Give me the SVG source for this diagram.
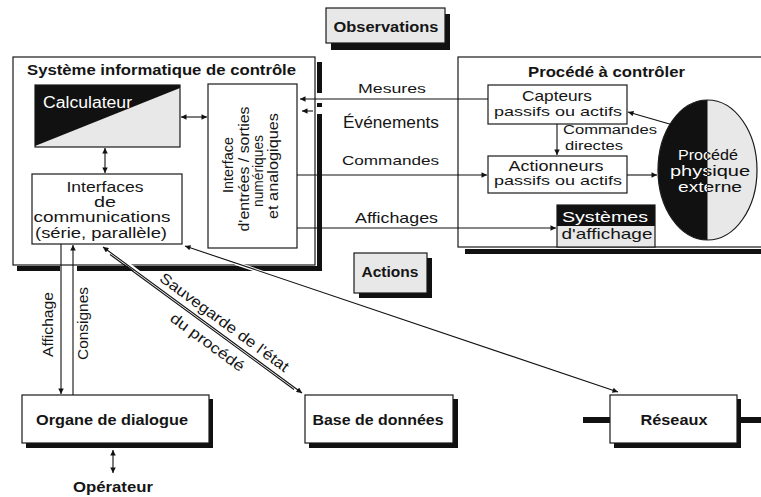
<svg xmlns="http://www.w3.org/2000/svg" width="761" height="497" viewBox="0 0 761 497">
  <style>
    text { font-family: "Liberation Sans", Arial, Helvetica, sans-serif; fill: #151515; }
    .b { font-weight: bold; }
    .w { fill: #ffffff; }
    .box { fill: #ffffff; stroke: #1a1a1a; stroke-width: 1.2; }
    .gbox { fill: #e8e8e8; stroke: #1a1a1a; stroke-width: 1.2; }
    .shadow { fill: #111111; }
    .ln { fill: none; stroke: #111111; stroke-width: 1.1; }
    .halo { fill: none; stroke: #ffffff; stroke-width: 3.5; }
  </style>
  <defs>
    <marker id="arr" viewBox="0 0 10 10" refX="10" refY="5" markerWidth="8" markerHeight="5.5" markerUnits="userSpaceOnUse" orient="auto-start-reverse">
      <path d="M0,0 L10,5 L0,10 z" fill="#111111"/>
    </marker>
    <clipPath id="ellLeft"><rect x="650" y="95" width="57.5" height="150"/></clipPath>
    <!-- white on the dark half, black on the light half -->
    <linearGradient id="splitText" gradientUnits="userSpaceOnUse" x1="650" y1="0" x2="770" y2="0">
      <stop offset="0.479" stop-color="#ffffff"/>
      <stop offset="0.479" stop-color="#111111"/>
    </linearGradient>
  </defs>

  <rect width="761" height="497" fill="#ffffff"/>

  <!-- Observations label -->
  <g id="observations">
    <rect class="shadow" x="331" y="14" width="119" height="36"/>
    <rect class="gbox" x="326" y="8" width="119" height="35"/>
    <text class="b" x="386" y="32" font-size="15" text-anchor="middle" textLength="105" lengthAdjust="spacingAndGlyphs">Observations</text>
  </g>

  <!-- Control computer system -->
  <g id="systeme">
    <rect class="shadow" x="317" y="62" width="5" height="31"/>
    <rect class="shadow" x="317" y="103" width="5" height="4"/>
    <rect class="shadow" x="317" y="114" width="5" height="157"/>
    <rect class="shadow" x="17" y="266" width="43" height="5"/>
    <rect class="shadow" x="77" y="266" width="245" height="5"/>
    <rect class="box" x="13" y="57" width="302" height="208"/>
    <text class="b" x="27" y="75" font-size="14" textLength="269" lengthAdjust="spacingAndGlyphs">Système informatique de contrôle</text>
  </g>

  <g id="calculateur">
    <rect x="35" y="85" width="145" height="62" fill="#e8e8e8"/>
    <polygon points="35,85 180,85 180,88 35,146" fill="#111111"/>
    <rect x="35" y="85" width="145" height="62" fill="none" stroke="#1a1a1a" stroke-width="1.2"/>
    <text class="w" x="43" y="108" font-size="16" textLength="89" lengthAdjust="spacingAndGlyphs">Calculateur</text>
  </g>

  <g id="interfaces-comm">
    <rect class="box" x="32" y="174" width="150" height="70"/>
    <text x="105" y="192" font-size="14" text-anchor="middle" textLength="77" lengthAdjust="spacingAndGlyphs">Interfaces</text>
    <text x="105" y="207" font-size="14" text-anchor="middle" textLength="22" lengthAdjust="spacingAndGlyphs">de</text>
    <text x="102" y="222" font-size="14.5" text-anchor="middle" textLength="137" lengthAdjust="spacingAndGlyphs">communications</text>
    <text x="101" y="238" font-size="14" text-anchor="middle" textLength="132" lengthAdjust="spacingAndGlyphs">(série, parallèle)</text>
  </g>

  <g id="interface-es">
    <rect class="box" x="208" y="84" width="89" height="164"/>
    <g font-size="15" text-anchor="middle">
      <text transform="translate(233,165) rotate(-90)" textLength="56" lengthAdjust="spacingAndGlyphs">Interface</text>
      <text transform="translate(249,169) rotate(-90)" textLength="125" lengthAdjust="spacingAndGlyphs">d'entrées / sorties</text>
      <text transform="translate(263,171) rotate(-90)" textLength="72" lengthAdjust="spacingAndGlyphs">numériques</text>
      <text transform="translate(278,166) rotate(-90)" textLength="106" lengthAdjust="spacingAndGlyphs">et analogiques</text>
    </g>
  </g>

  <!-- Process to be controlled -->
  <g id="procede">
    <rect class="shadow" x="465" y="249" width="300" height="5"/>
    <rect class="box" x="458" y="57" width="312" height="190"/>
    <text class="b" x="528" y="77" font-size="14" textLength="157" lengthAdjust="spacingAndGlyphs">Procédé à contrôler</text>
  </g>

  <g id="capteurs">
    <rect class="box" x="488" y="85" width="139" height="39"/>
    <text x="557" y="101" font-size="15" text-anchor="middle" textLength="70" lengthAdjust="spacingAndGlyphs">Capteurs</text>
    <text x="558" y="116" font-size="13.5" text-anchor="middle" textLength="128" lengthAdjust="spacingAndGlyphs">passifs ou actifs</text>
  </g>

  <g id="actionneurs">
    <rect class="box" x="488" y="156" width="139" height="37"/>
    <text x="556" y="171" font-size="15" text-anchor="middle" textLength="95" lengthAdjust="spacingAndGlyphs">Actionneurs</text>
    <text x="558" y="185" font-size="13.5" text-anchor="middle" textLength="128" lengthAdjust="spacingAndGlyphs">passifs ou actifs</text>
  </g>

  <g id="affichage-sys">
    <rect x="557" y="205" width="98" height="21" fill="#111111"/>
    <rect x="557" y="226" width="98" height="21" fill="#e8e8e8"/>
    <rect x="557" y="205" width="98" height="42" fill="none" stroke="#1a1a1a" stroke-width="1.2"/>
    <text class="w" x="605" y="222" font-size="15.5" text-anchor="middle" textLength="86" lengthAdjust="spacingAndGlyphs">Systèmes</text>
    <text x="607" y="239" font-size="15" text-anchor="middle" textLength="91" lengthAdjust="spacingAndGlyphs">d'affichage</text>
  </g>

  <g id="procede-physique">
    <ellipse cx="707.5" cy="170" rx="49.5" ry="70" fill="#e8e8e8"/>
    <ellipse cx="707.5" cy="170" rx="49.5" ry="70" fill="#111111" clip-path="url(#ellLeft)"/>
    <ellipse cx="707.5" cy="170" rx="49.5" ry="70" fill="none" stroke="#1a1a1a" stroke-width="1.2"/>
    <g font-size="14" text-anchor="middle">
      <text x="708" y="160" style="fill:url(#splitText)" textLength="60" lengthAdjust="spacingAndGlyphs">Procédé</text>
      <text x="710" y="176" style="fill:url(#splitText)" textLength="80" lengthAdjust="spacingAndGlyphs">physique</text>
      <text x="710" y="192" style="fill:url(#splitText)" textLength="64" lengthAdjust="spacingAndGlyphs">externe</text>
    </g>
  </g>

  <!-- Actions label -->
  <g id="actions">
    <rect class="shadow" x="359" y="258" width="73" height="40"/>
    <rect class="gbox" x="354" y="253" width="73" height="40"/>
    <text class="b" x="390" y="277" font-size="15" text-anchor="middle" textLength="57" lengthAdjust="spacingAndGlyphs">Actions</text>
  </g>

  <!-- Bottom nodes -->
  <g id="organe">
    <rect class="shadow" x="26" y="399" width="187" height="49"/>
    <rect class="box" x="22" y="395" width="187" height="48"/>
    <text class="b" x="112" y="425" font-size="15" text-anchor="middle" textLength="152" lengthAdjust="spacingAndGlyphs">Organe de dialogue</text>
  </g>

  <g id="operateur">
    <text class="b" x="113" y="492" font-size="15" text-anchor="middle" textLength="80" lengthAdjust="spacingAndGlyphs">Opérateur</text>
  </g>

  <g id="base">
    <rect class="shadow" x="309" y="399" width="149" height="49"/>
    <rect class="box" x="305" y="395" width="148" height="48"/>
    <text class="b" x="378" y="425" font-size="15" text-anchor="middle" textLength="131" lengthAdjust="spacingAndGlyphs">Base de données</text>
  </g>

  <g id="reseaux">
    <rect class="shadow" x="583" y="417" width="30" height="6"/>
    <rect class="shadow" x="737" y="417" width="24" height="6"/>
    <rect class="shadow" x="614" y="399" width="127" height="49"/>
    <rect class="box" x="610" y="395" width="127" height="48"/>
    <text class="b" x="674" y="425" font-size="15" text-anchor="middle" textLength="67" lengthAdjust="spacingAndGlyphs">Réseaux</text>
  </g>

  <!-- Connectors -->
  <g id="connectors">
    <!-- white breaks where links cross the shadow band -->
    <line class="halo" x1="120" y1="258" x2="145" y2="277"/>
    <line class="halo" x1="235" y1="263" x2="270" y2="275"/>

    <line class="ln" x1="181" y1="117" x2="207" y2="117" marker-start="url(#arr)" marker-end="url(#arr)"/>
    <line class="ln" x1="105" y1="148" x2="105" y2="173" marker-start="url(#arr)" marker-end="url(#arr)"/>

    <line class="ln" x1="488" y1="99" x2="300" y2="99" marker-end="url(#arr)"/>
    <line class="ln" x1="313" y1="111" x2="302" y2="111" marker-end="url(#arr)"/>
    <line class="ln" x1="297" y1="175" x2="487" y2="175" marker-end="url(#arr)"/>
    <line class="ln" x1="297" y1="228" x2="556" y2="228" marker-end="url(#arr)"/>

    <line class="ln" x1="557" y1="124" x2="557" y2="155" marker-end="url(#arr)"/>
    <line class="ln" x1="627" y1="175" x2="657" y2="175" marker-end="url(#arr)"/>
    <line class="ln" x1="673" y1="125" x2="628" y2="112" marker-end="url(#arr)"/>

    <line class="ln" x1="61" y1="244" x2="61" y2="394" marker-end="url(#arr)"/>
    <line class="ln" x1="73" y1="395" x2="73" y2="245" marker-end="url(#arr)"/>

    <line class="ln" x1="103" y1="247" x2="302" y2="393" marker-start="url(#arr)" marker-end="url(#arr)"/>
    <line class="ln" x1="110" y1="254.5" x2="294" y2="389.5" stroke-width="0.8"/>

    <line class="ln" x1="185" y1="246" x2="618" y2="392" marker-start="url(#arr)" marker-end="url(#arr)"/>

    <line class="ln" x1="113" y1="450" x2="113" y2="473" marker-start="url(#arr)" marker-end="url(#arr)"/>

    <!-- link labels -->
    <text x="358" y="93" font-size="12.5" textLength="68" lengthAdjust="spacingAndGlyphs">Mesures</text>
    <text x="343" y="128" font-size="16" textLength="96" lengthAdjust="spacingAndGlyphs">Événements</text>
    <text x="342" y="165" font-size="13" textLength="97" lengthAdjust="spacingAndGlyphs">Commandes</text>
    <text x="355" y="223" font-size="14.5" textLength="83" lengthAdjust="spacingAndGlyphs">Affichages</text>
    <text x="563" y="133.5" font-size="12.5" textLength="94" lengthAdjust="spacingAndGlyphs">Commandes</text>
    <text x="565" y="149.5" font-size="13.5" textLength="58" lengthAdjust="spacingAndGlyphs">directes</text>
    <text transform="translate(53,324.5) rotate(-90)" font-size="15" text-anchor="middle" textLength="65" lengthAdjust="spacingAndGlyphs">Affichage</text>
    <text transform="translate(88,323.5) rotate(-90)" font-size="15" text-anchor="middle" textLength="73" lengthAdjust="spacingAndGlyphs">Consignes</text>
    <g transform="translate(202.5,320) rotate(36.27)" font-size="15" text-anchor="middle">
      <text x="19" y="-6" textLength="156" lengthAdjust="spacingAndGlyphs">Sauvegarde de l'état</text>
      <text x="17" y="20" textLength="88" lengthAdjust="spacingAndGlyphs">du procédé</text>
    </g>
  </g>
</svg>
